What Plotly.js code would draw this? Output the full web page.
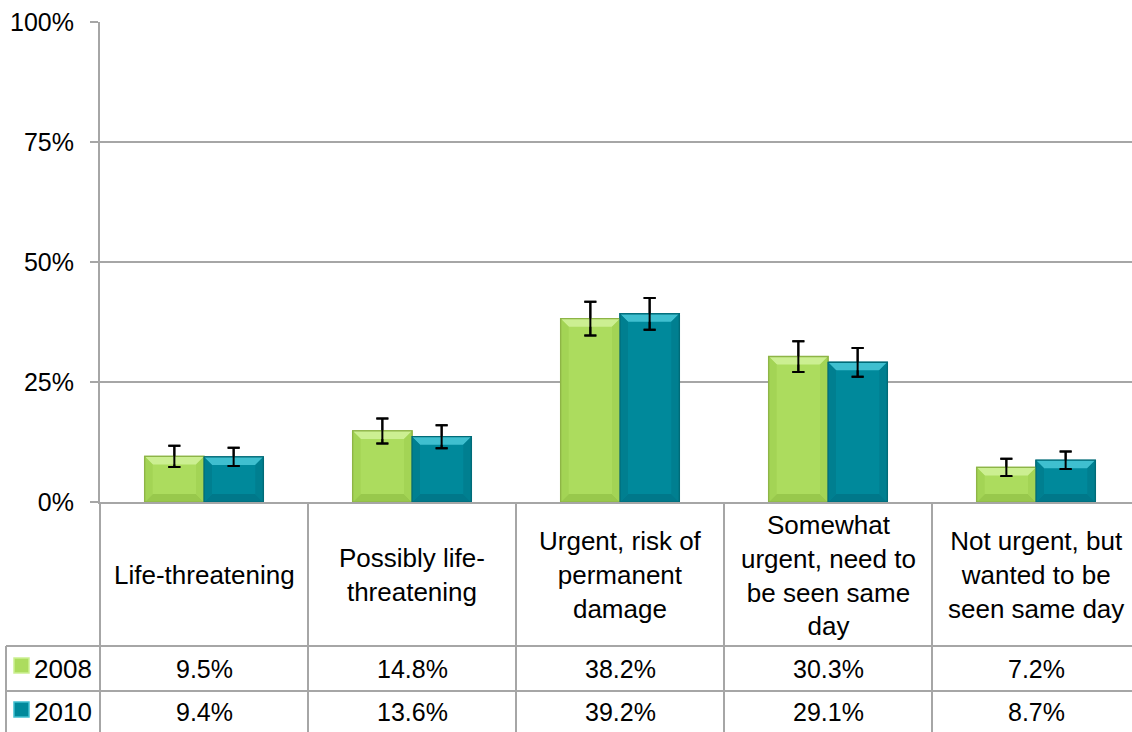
<!DOCTYPE html>
<html><head><meta charset="utf-8">
<script src="https://cdn.plot.ly/plotly-3.0.1.min.js"></script>
<style>html,body{margin:0;padding:0;background:#fff;}#chart{width:1132px;height:732px;}</style>
</head><body><div id="chart"></div>
<script>
const categories = ["Life-threatening","Possibly life-\nthreatening","Urgent, risk of\npermanent\ndamage","Somewhat\nurgent, need to\nbe seen same\nday","Not urgent, but\nwanted to be\nseen same day"];
const years = ["2008","2010"];
const values2008 = [9.5,14.8,38.2,30.3,7.2];
const values2010 = [9.4,13.6,39.2,29.1,8.7];
const err2008 = [2.2,2.6,3.5,3.2,1.8];
const err2010 = [1.9,2.4,3.3,3.0,1.8];
const yTickVals = [0,25,50,75,100];
const yTickText = ["0%","25%","50%","75%","100%"];

const FONT = "Liberation Sans, Arial, sans-serif";
const fills = ["#acdc5e","#00899b"];
const edges = ["#8db446","#006b78"];
const tops = ["#ccef92","#3fbfcf"];
const sides = ["#a3d455","#007f90"];
const bottoms = ["#98c84c","#00788a"];
const GRID = "#a6a6a6";
const xs = categories.map((_,i)=>i);
const series = [values2008, values2010];
const errs = [err2008, err2010];

const BARGAP = 0.43;
const XRANGE = [-0.5, 4.5-8/208];
const PLOT_W = 1032, PLOT_H = 480, YMAX = 100;

const traces = series.map((vals,k)=>({
  type:"bar", x:xs, y:vals, name:years[k],
  marker:{color:fills[k], line:{color:edges[k], width:1.5}},
  error_y:{type:"data", array:errs[k], visible:true, color:"#000", thickness:2, width:6},
  hoverinfo:"skip"
}));

const pyToPaper = py => (502-py)/480;
const pxToPaper = px => (px-100)/1032;
const rowTops = [pyToPaper(646), pyToPaper(691)];
const bottom = pyToPaper(732);
const rowCenters = [pyToPaper(668.5), pyToPaper(711.5)];
const tableLeft = pxToPaper(6);
const line = {color:GRID, width:2};

const shapes = [];
// bevel decoration + error bars redrawn on top (derived from the data through the axes)
const barW = (1-BARGAP)/series.length;
const pxPerX = PLOT_W/(XRANGE[1]-XRANGE[0]);
const pxPerY = PLOT_H/YMAX;
const w = barW*pxPerX/2, b = 8;
series.forEach((vals,k)=>{
  vals.forEach((v,i)=>{
    const xc = i - (1-BARGAP)/2 + barW*(k+0.5);
    const h = v*pxPerY;
    const base = {type:"path", xref:"x", yref:"y", xsizemode:"pixel", ysizemode:"pixel", xanchor:xc, yanchor:v, line:{width:0}, layer:"above"};
    shapes.push(Object.assign({}, base, {path:`M ${-w},0 L ${w},0 L ${w-b},${-b} L ${-w+b},${-b} Z`, fillcolor:tops[k]}));
    shapes.push(Object.assign({}, base, {path:`M ${-w},${-h} L ${w},${-h} L ${w-b},${-h+b} L ${-w+b},${-h+b} Z`, fillcolor:bottoms[k]}));
    shapes.push(Object.assign({}, base, {path:`M ${-w},0 L ${-w+b},${-b} L ${-w+b},${-h+b} L ${-w},${-h} Z`, fillcolor:sides[k]}));
    shapes.push(Object.assign({}, base, {path:`M ${w},0 L ${w-b},${-b} L ${w-b},${-h+b} L ${w},${-h} Z`, fillcolor:sides[k]}));
    shapes.push(Object.assign({}, base, {path:`M ${-w},0 L ${w},0 L ${w},${-h} L ${-w},${-h} Z`, fillcolor:"rgba(0,0,0,0)", line:{color:edges[k], width:1.2}}));
    const e = errs[k][i];
    shapes.push({type:"path", xref:"x", yref:"y", xsizemode:"pixel", xanchor:xc,
      path:`M -6,${v-e} L 6,${v-e} M 0,${v-e} L 0,${v+e} M -6,${v+e} L 6,${v+e}`, line:{color:"#000", width:2}});
  });
});

rowTops.forEach(y=>shapes.push({type:"line", xref:"paper", yref:"paper", x0:tableLeft, x1:1, y0:y, y1:y, line}));
shapes.push({type:"line", xref:"paper", yref:"paper", x0:0, x1:0, y0:0, y1:bottom, line});
shapes.push({type:"line", xref:"paper", yref:"paper", x0:tableLeft, x1:tableLeft, y0:rowTops[0], y1:bottom, line});
for (let i=0;i<categories.length-1;i++){
  shapes.push({type:"line", xref:"x", yref:"paper", x0:i+0.5, x1:i+0.5, y0:0, y1:bottom, line});
}
const keyY = [[pyToPaper(658),pyToPaper(673)],[pyToPaper(702),pyToPaper(717)]];
years.forEach((yr,k)=>{
  shapes.push({type:"rect", xref:"paper", yref:"paper", x0:pxToPaper(14), x1:pxToPaper(29), y0:keyY[k][0], y1:keyY[k][1], fillcolor:fills[k], line:{color:tops[k], width:1.5}});
});

const annotations = [];
categories.forEach((c,i)=>{
  annotations.push({xref:"x", yref:"paper", x:i, y:pyToPaper(575), text:c.replace(/\n/g,"<br>"), showarrow:false, xanchor:"center", yanchor:"middle", font:{family:FONT, size:26, color:"#000"}});
  series.forEach((vals,k)=>{
    annotations.push({xref:"x", yref:"paper", x:i, y:rowCenters[k], text:vals[i].toFixed(1)+"%", showarrow:false, xanchor:"center", yanchor:"middle", font:{family:FONT, size:25, color:"#000"}});
  });
});
years.forEach((yr,k)=>{
  annotations.push({xref:"paper", yref:"paper", x:pxToPaper(32), y:rowCenters[k], text:yr, showarrow:false, xanchor:"left", yanchor:"middle", font:{family:FONT, size:26, color:"#000"}});
});

const layout = {
  width:1132, height:732,
  margin:{l:100, r:0, t:22, b:230, pad:0},
  paper_bgcolor:"#fff", plot_bgcolor:"#fff",
  showlegend:false,
  barmode:"group", bargap:BARGAP, bargroupgap:0,
  font:{family:FONT, size:25, color:"#000"},
  xaxis:{range:XRANGE, showticklabels:false, showgrid:false, zeroline:false, showline:true, linecolor:GRID, linewidth:2, ticks:""},
  yaxis:{range:[0,YMAX], tickvals:yTickVals, ticktext:yTickText, showgrid:true, gridcolor:GRID, gridwidth:2, zeroline:false, showline:true, linecolor:GRID, linewidth:2, ticks:"outside", ticklen:8, tickcolor:GRID, tickwidth:2, ticklabelstandoff:11, tickfont:{family:FONT, size:25, color:"#000"}},
  shapes, annotations
};
Plotly.newPlot("chart", traces, layout, {displayModeBar:false, staticPlot:true});
</script></body></html>
